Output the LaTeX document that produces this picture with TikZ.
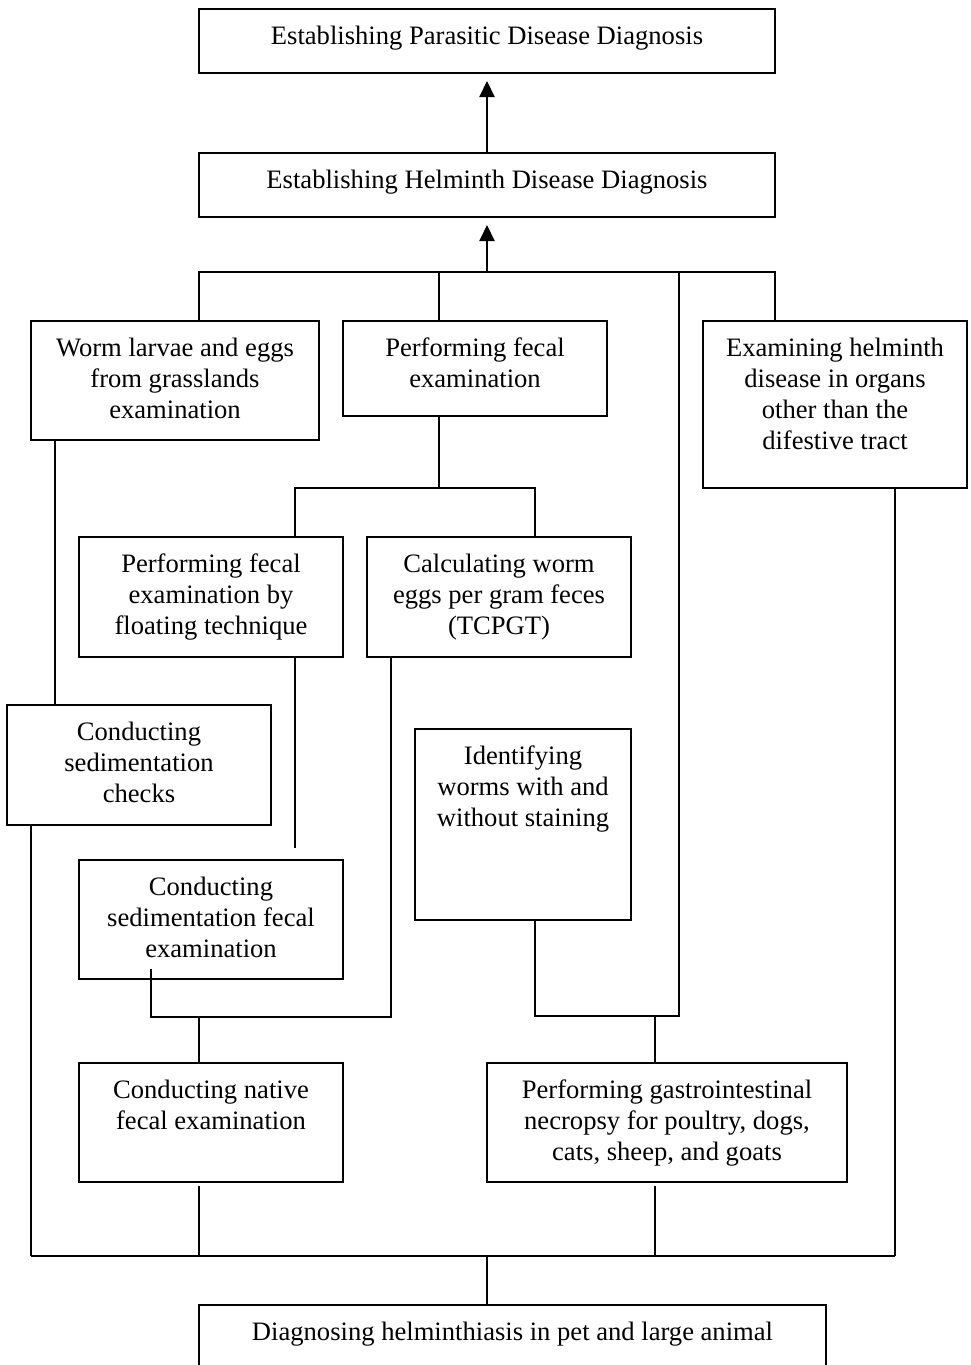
\documentclass[tikz,border=0pt]{standalone}
\usepackage{fontspec}
\setmainfont{Liberation Serif}
\usetikzlibrary{arrows.meta}
\newcommand\mybox[6]{%
  \pgfmathsetmacro\bw{(#4-#2)*0.5}%
  \pgfmathsetmacro\bh{(#5-#3)*0.5}%
  \node[box, anchor=north west] (#1) at (#2,#3)
    {\parbox[c][\bh pt][t]{\bw pt}{\centering\rule{0pt}{17.8pt}#6}};%
}
\begin{document}
\begin{tikzpicture}[x=0.5pt,y=-0.5pt,
  box/.style={draw,line width=1pt,inner sep=0pt,outer sep=0pt,font=\fontsize{13.3pt}{15.5pt}\selectfont},
  ln/.style={line width=1pt},
  thin/.style={line width=0.6pt},
  arr/.style={line width=1pt,-{Triangle[length=8pt,width=7.5pt]}}]
\useasboundingbox (0,0) rectangle (970,1365);
\clip (0,0) rectangle (970,1365);
\fill[white] (0,0) rectangle (970,1365);

\mybox{top}{199}{9}{775}{73}{Establishing Parasitic Disease Diagnosis}
\mybox{helm}{199}{153}{775}{217}{Establishing Helminth Disease Diagnosis}
\mybox{wl}{31}{321}{319}{440}{Worm larvae and eggs\\from grasslands\\examination}
\mybox{pf}{343}{321}{607}{416}{Performing fecal\\examination}
\mybox{eh}{703}{321}{967}{488}{Examining helminth\\disease in organs\\other than the\\difestive tract}
\mybox{fl}{79}{537}{343}{657}{Performing fecal\\examination by\\floating technique}
\mybox{cw}{367}{537}{631}{657}{Calculating worm\\eggs per gram feces\\(TCPGT)}
\mybox{sc}{7}{705}{271}{825}{Conducting\\sedimentation\\checks}
\mybox{iw}{415}{729}{631}{920}{Identifying\\worms with and\\without staining}
\mybox{sf}{79}{860}{343}{979}{Conducting\\sedimentation fecal\\examination}
\mybox{nf}{79}{1063}{343}{1182}{Conducting native\\fecal examination}
\mybox{gi}{487}{1063}{847}{1182}{Performing gastrointestinal\\necropsy for poultry, dogs,\\cats, sheep, and goats}
\mybox{dh}{199}{1305}{826}{1400}{Diagnosing helminthiasis in pet and large animal}

% arrows at the top
\draw[arr] (helm.north) -- ([yshift=-4pt]top.south);
\coordinate (bM) at (487,272);
\draw[arr] (bM) -- ([yshift=-4pt]helm.south);

% upper bar
\coordinate (bL) at (199,272);
\coordinate (bR) at (775,272);
\coordinate (b1) at (439,272);
\coordinate (b2) at (679,272);
\draw[ln] (bL|-wl.north) -- (bL) -- (bR) -- (bR|-eh.north);
\draw[ln] (b1) -- (b1|-pf.north);

% right long line and identifying worms
\coordinate (r1) at (679,1016);
\coordinate (r0) at (535,1016);
\coordinate (r2) at (655,1016);
\draw[ln] (b2) -- (r1) -- (r0) -- (r0|-iw.south);
\draw[ln] (r2) -- (r2|-gi.north);

% fecal examination split
\coordinate (p1) at (439,488);
\coordinate (p2) at (295,488);
\coordinate (p3) at (535,488);
\draw[ln] (p1|-pf.south) -- (p1);
\draw[ln] (p2|-fl.north) -- (p2) -- (p3) -- (p3|-cw.north);

% worm larvae to sedimentation checks
\coordinate (w1) at (55,440);
\draw[ln] (w1|-wl.south) -- (w1|-sc.north);

% floating technique stub
\coordinate (f1) at (295,848);
\draw[ln] (f1|-fl.south) -- (f1);

% TCPGT to sedimentation fecal / native
\coordinate (c1) at (391,1017);
\coordinate (c2) at (151,1017);
\coordinate (c3) at (151,969);
\coordinate (c4) at (199,1017);
\draw[ln] (c1|-cw.south) -- (c1) -- (c2) -- (c3);
\draw[ln] (c4) -- (c4|-nf.north);

% lower bar
\coordinate (s1) at (31,1256);
\coordinate (e1) at (895,1256);
\draw[ln] (s1|-sc.south) -- (s1);
\draw[ln] (e1|-eh.south) -- (e1);
\draw[thin] (s1) -- (e1);
\coordinate (n1) at (199,1186);
\coordinate (g1) at (655,1186);
\draw[thin] (n1) -- (n1|-s1);
\draw[thin] (g1) -- (g1|-s1);
\coordinate (d1) at (487,1256);
\draw[thin] (d1) -- (d1|-dh.north);
\end{tikzpicture}
\end{document}
